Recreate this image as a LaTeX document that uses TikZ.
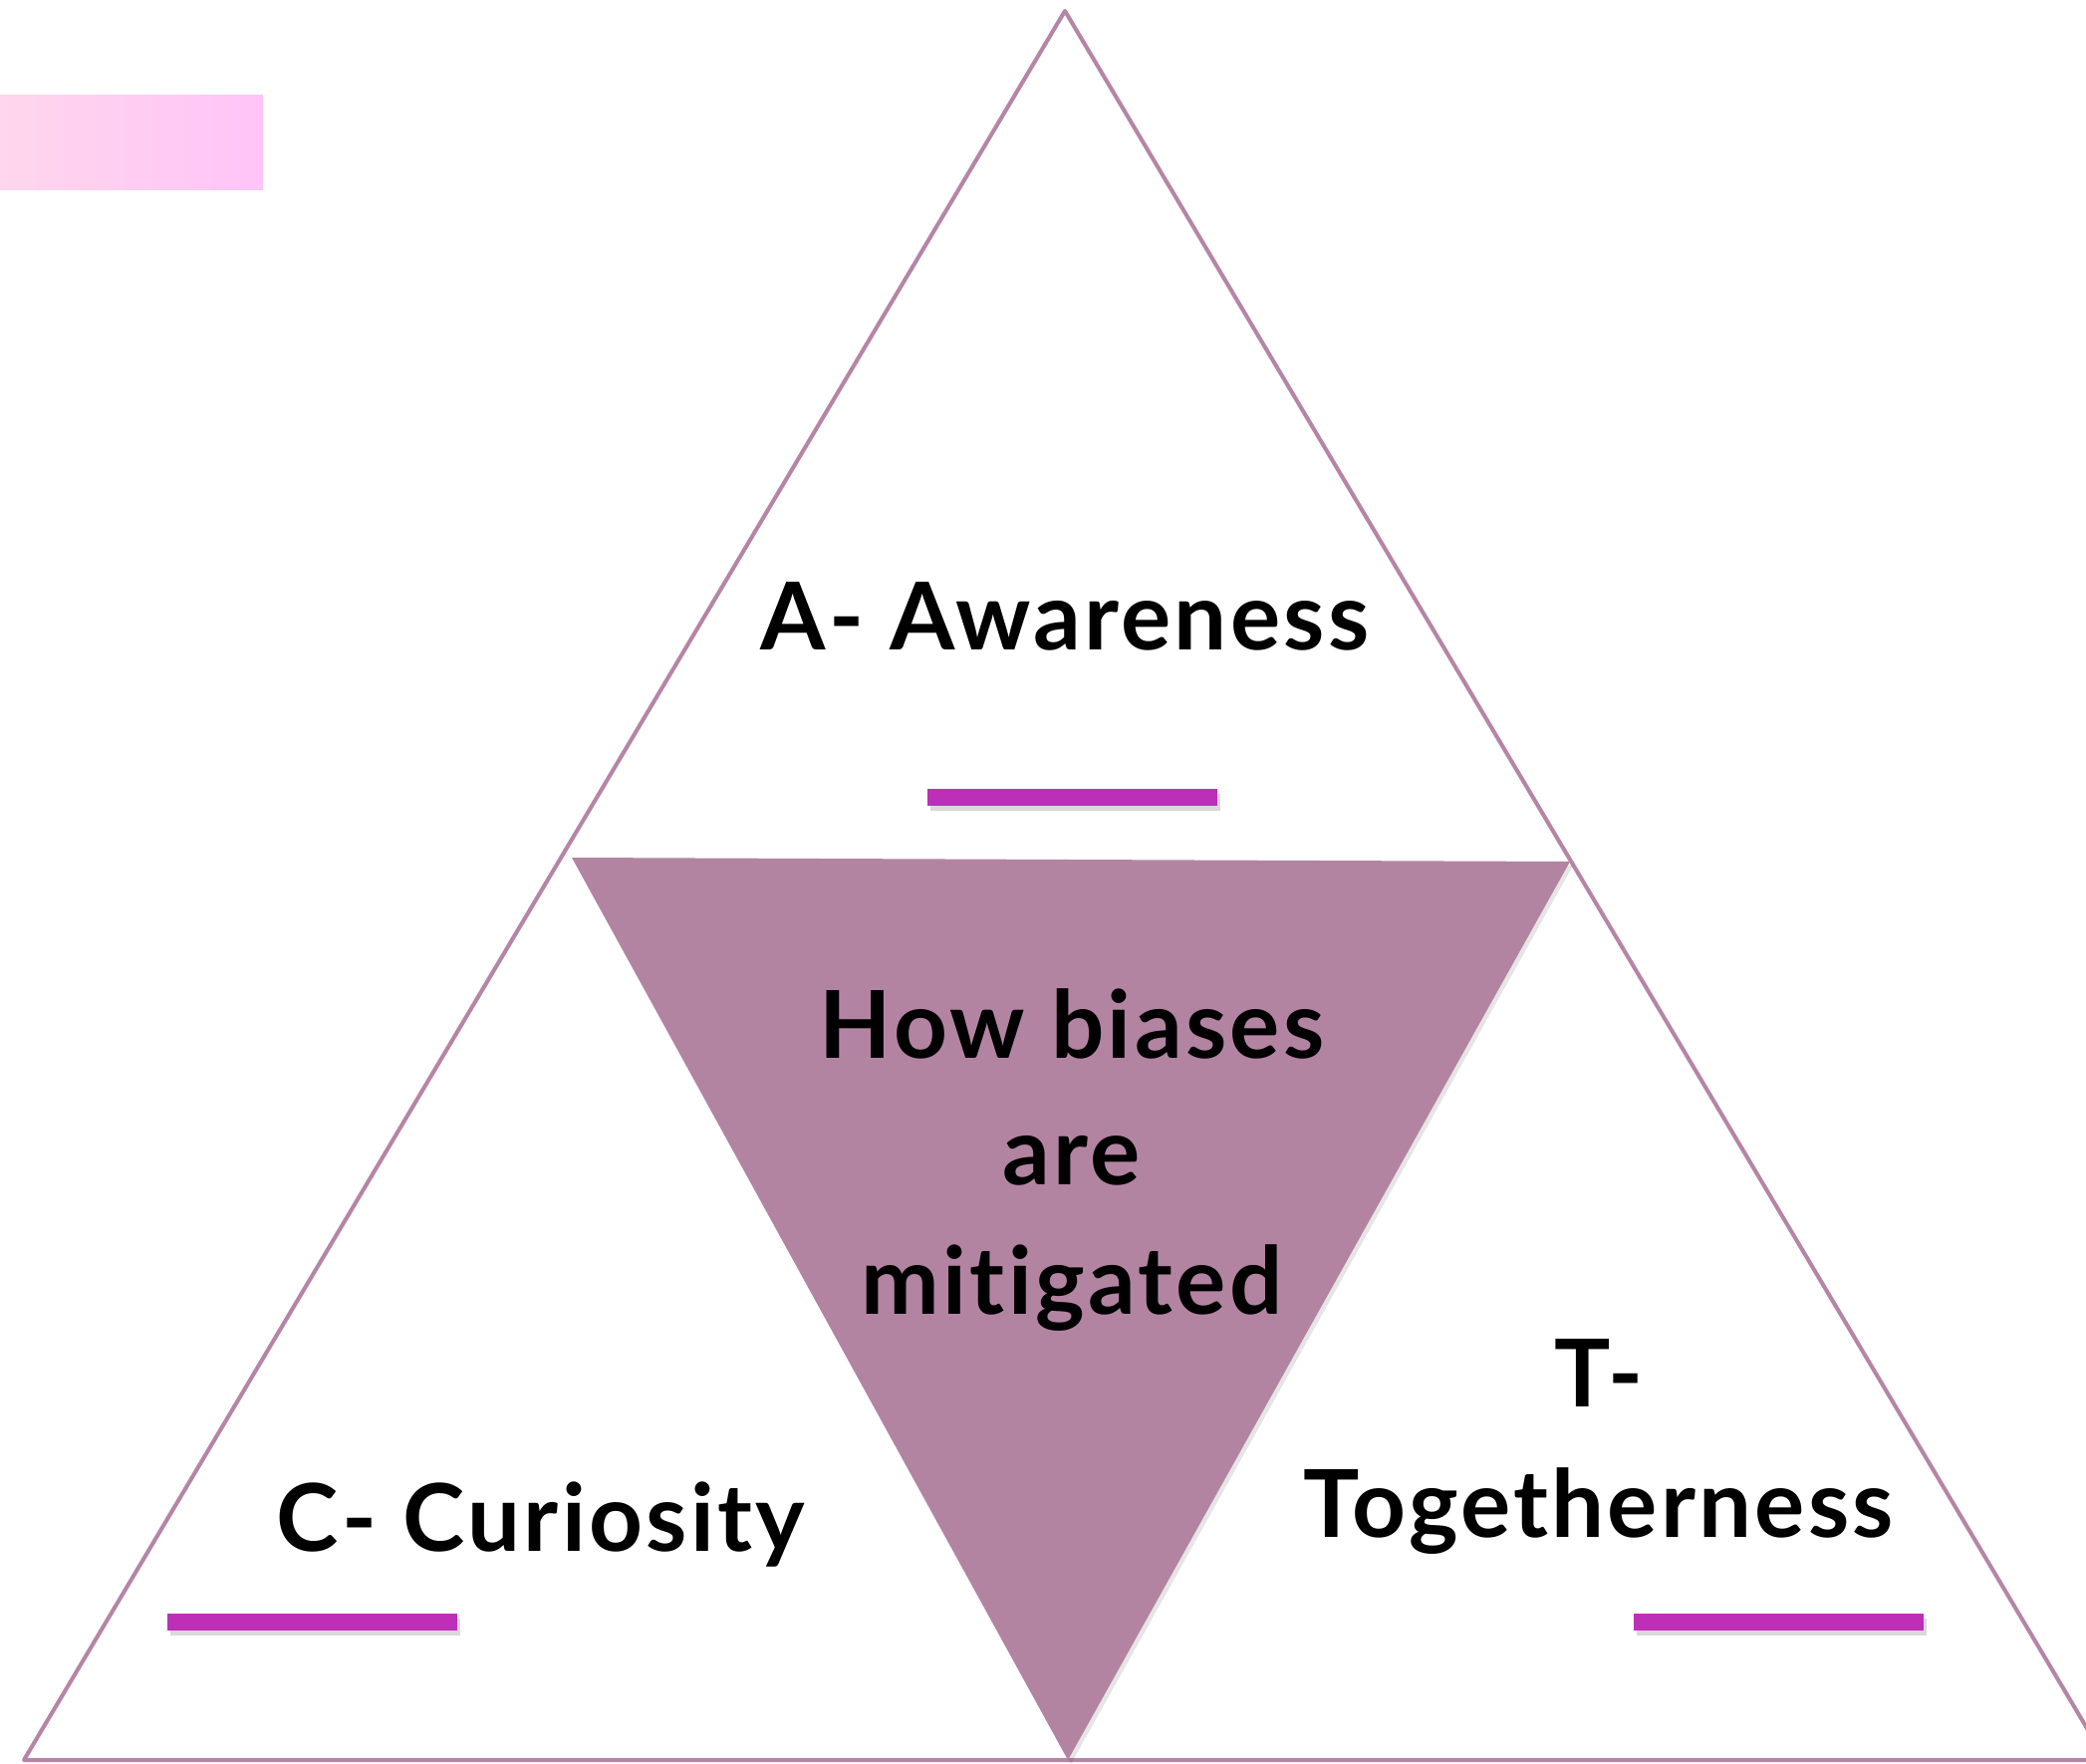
\documentclass[tikz,border=0pt]{standalone}
\usepackage{fontspec}
\setmainfont{Lato}[UprightFont=* Bold, Ligatures=NoCommon, LetterSpace=3.5]
\definecolor{edgec}{RGB}{182,133,166}
\definecolor{fillc}{RGB}{179,132,162}
\definecolor{barc}{RGB}{190,47,184}
\definecolor{pinkl}{RGB}{255,214,236}
\definecolor{pinkr}{RGB}{255,196,248}
\tikzset{
  lbl/.style={anchor=base, inner sep=0pt, font=\fontsize{47}{58}\selectfont, text=black},
  bar/.style={fill=barc, draw=none},
  barshadow/.style={fill=black, opacity=0.15, draw=none},
}
\begin{document}
\begin{tikzpicture}[x=0.5pt,y=-0.5pt]
\useasboundingbox (0,0) rectangle (2094,1771);
\fill[white] (0,0) rectangle (2094,1771);
% pink rectangle
\shade[left color=pinkl, right color=pinkr] (0,96) rectangle (264,191);
% outer triangle
\coordinate (apex) at (1069,11);
\coordinate (bl) at (24,1767);
\coordinate (br) at (2114,1767);
\draw[black, opacity=0.08, line width=2pt, line join=round, shift={(3,3)}] (apex) -- (bl) -- (br) -- cycle;
\draw[edgec, line width=2pt, line join=round] (apex) -- (bl) -- (br) -- cycle;
% inner triangle
\coordinate (il) at (574,861);
\coordinate (ir) at (1576,865);
\coordinate (ib) at (1072,1767);
\fill[black, opacity=0.10] ([shift={(3,4)}]il) -- ([shift={(3,4)}]ir) -- ([shift={(3,4)}]ib) -- cycle;
\fill[fillc] (il) -- (ir) -- (ib) -- cycle;
% bars
\fill[barshadow] (934,797) rectangle (1225,814);
\fill[bar] (931,792) rectangle (1222,809);
\fill[barshadow] (171,1625) rectangle (462,1642);
\fill[bar] (168,1620) rectangle (459,1637);
\fill[barshadow] (1643,1625) rectangle (1934,1642);
\fill[bar] (1640,1620) rectangle (1931,1637);
% labels
\node[lbl] (aw) at (1069,652) {A- Awareness};
\node[lbl] (h1) at (1076,1062) {How biases};
\node[lbl] (h2) at (1076,1189) {are};
\node[lbl] (h3) at (1076,1319) {mitigated};
\node[lbl] (cu) at (543,1557) {C- Curiosity};
\node[lbl] (t1) at (1605,1412) {T-};
\node[lbl] (t2) at (1605,1543) {Togetherness};
\end{tikzpicture}
\end{document}
